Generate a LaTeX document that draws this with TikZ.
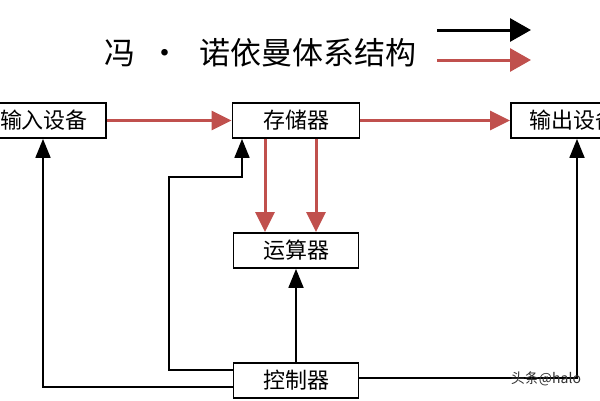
\documentclass[tikz,border=0pt]{standalone}
\usepackage{fontspec}
\setmainfont{Noto Sans CJK SC}
\usetikzlibrary{arrows.meta}
\definecolor{redline}{HTML}{C0504D}
\begin{document}
\begin{tikzpicture}[x=1pt,y=-1pt,
  box/.style={draw=black, line width=1.8pt, fill=white, minimum height=35pt, inner sep=0pt, font=\fontsize{22}{22}\selectfont},
  titlefont/.style={font=\fontsize{31}{31}\selectfont, inner sep=0pt},
  redarr/.style={draw=redline, line width=3pt, -{Triangle[length=20pt,width=19pt]}},
  blkarr/.style={draw=black, line width=1.8pt, -{Triangle[length=19pt,width=15pt]}},
  legblk/.style={draw=black, line width=3pt, -{Triangle[length=21pt,width=23pt]}},
  legred/.style={draw=redline, line width=3pt, -{Triangle[length=21pt,width=23pt]}},
]
\useasboundingbox (0,0) rectangle (600,400);
\clip (0,0) rectangle (600,400);
\fill[white] (0,0) rectangle (600,400);

% title and legend
\node[titlefont, anchor=base west] (t1) at (104,64) {冯};
\node[titlefont, anchor=base] (t2) at (165,64) {·};
\node[titlefont, anchor=base west] (t3) at (199,64) {诺依曼体系结构};
\coordinate (lbs) at (437,30);
\coordinate (lbe) at (531,30);
\coordinate (lrs) at (437,60);
\coordinate (lre) at (531,60);
\draw[legblk] (lbs) -- (lbe);
\draw[legred] (lrs) -- (lre);

% boxes
\node[box, minimum width=124pt] (in)  at (44,120.5) {输入设备};
\node[box, minimum width=127pt] (mem) at (296,120.5) {存储器};
\node[box, minimum width=124pt] (out) at (573,120.5) {输出设备};
\node[box, minimum width=125pt] (alu) at (296,250.5) {运算器};
\node[box, minimum width=125pt] (ctl) at (296,380.5) {控制器};

% red data flow
\draw[redarr] (in) -- (mem);
\draw[redarr] (mem) -- (out);
\coordinate (ra) at (265,0);
\coordinate (rb) at (316,0);
\draw[redarr] (mem.south -| ra) -- (alu.north -| ra);
\draw[redarr] (mem.south -| rb) -- (alu.north -| rb);

% control lines
\draw[blkarr] (ctl) -- (alu);
\coordinate (p1) at (43,387);
\draw[blkarr] (ctl.west |- p1) -- (p1) -- (p1 |- in.south);
\coordinate (k1) at (169,370);
\coordinate (k2) at (169,177);
\coordinate (k3) at (242,177);
\draw[blkarr] (ctl.west |- k1) -- (k1) -- (k2) -- (k3) -- (k3 |- mem.south);
\coordinate (k4) at (577,378);
\draw[blkarr] (ctl.east |- k4) -- (k4) -- (k4 |- out.south);

% watermark
\node[font=\fontsize{14}{14}\selectfont, text=black!80, inner sep=0pt] (wm) at (546,379) {头条@halo};
\end{tikzpicture}
\end{document}
